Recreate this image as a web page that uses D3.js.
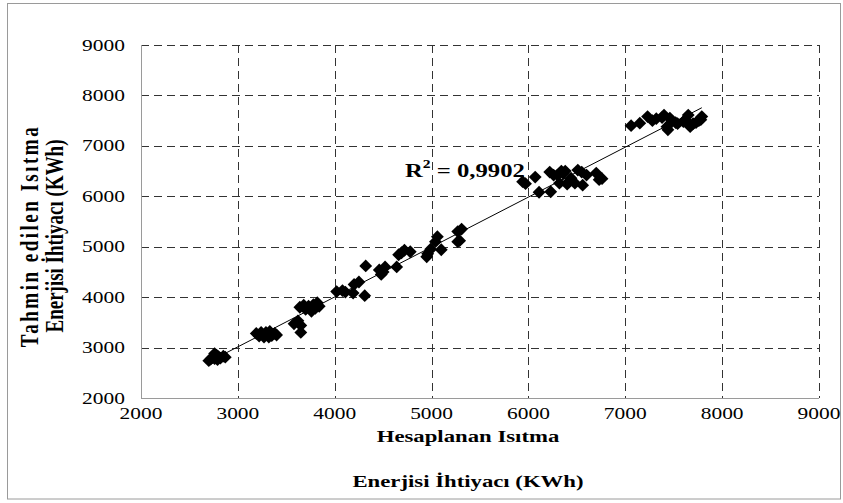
<!DOCTYPE html>
<html>
<head>
<meta charset="utf-8">
<script src="https://cdnjs.cloudflare.com/ajax/libs/d3/7.8.5/d3.min.js"></script>
<style>
  body { margin: 0; background: #fff; }
  svg { display: block; }
  text { font-family: "Liberation Serif", "Times New Roman", serif; fill: #000; }
</style>
</head>
<body>
<svg id="chart" width="843" height="503"></svg>
<script>
// hesaplanan (calculated) vs tahmin edilen (predicted) heating energy, KWh
const calcKWh = [
  2700, 2720, 2740, 2760, 2780, 2800, 2820, 2850, 2870, 2760, 2790,
  3190, 3220, 3250, 3270, 3290, 3310, 3330, 3350, 3380, 3400, 3240, 3320,
  3580, 3620, 3650, 3650, 3640, 3680, 3700, 3730, 3760, 3780, 3800, 3820, 3840,
  4020, 4080, 4110, 4190, 4200, 4250, 4310, 4320, 4460, 4480, 4500, 4520,
  4640, 4660, 4690, 4720, 4780, 4950, 4960, 4990, 5040, 5060, 5100, 5270, 5290, 5310, 5270,
  5940, 5970, 6070, 6110, 6230, 6220, 6260, 6300, 6340, 6360, 6400, 6420, 6440, 6480,
  6510, 6550, 6560, 6600, 6700, 6730, 6760, 6320, 6380,
  7060, 7150, 7230, 7280, 7320, 7380, 7400, 7430, 7440, 7460, 7480, 7520, 7540,
  7600, 7620, 7650, 7670, 7700, 7730, 7780, 7790, 7760
]
const predKWh = [
  2740, 2770, 2800, 2780, 2850, 2820, 2790, 2830, 2810, 2880, 2760,
  3280, 3230, 3270, 3210, 3300, 3250, 3320, 3240, 3280, 3250, 3300, 3210,
  3470, 3530, 3440, 3300, 3800, 3840, 3760, 3820, 3720, 3850, 3780, 3890, 3820,
  4110, 4130, 4100, 4080, 4250, 4300, 4030, 4620, 4540, 4450, 4500, 4600,
  4600, 4840, 4880, 4930, 4900, 4800, 4860, 4950, 5100, 5200, 4940, 5300, 5120, 5350, 5100,
  6290, 6250, 6380, 6080, 6090, 6480, 6420, 6420, 6500, 6450, 6240, 6300, 6360, 6260,
  6520, 6480, 6220, 6420, 6460, 6330, 6350, 6260, 6500,
  7400, 7450, 7580, 7500, 7540, 7560, 7610, 7380, 7320, 7550, 7500, 7460, 7440,
  7480, 7520, 7610, 7380, 7440, 7460, 7520, 7580, 7500
]
const xTicks = [2000, 3000, 4000, 5000, 6000, 7000, 8000, 9000]
const yTicks = [2000, 3000, 4000, 5000, 6000, 7000, 8000, 9000]
const xTitle = ['Hesaplanan Isıtma', 'Enerjisi İhtiyacı (KWh)']
const yTitle = ['Tahmin edilen Isıtma', 'Enerjisi İhtiyacı (KWh)']
const r2Label = '0,9902'

const points = calcKWh.map((d, i) => ({ x: d, y: predKWh[i] }))

// the source picture is stretched sideways, text too
const SX = 1.3

const svg = d3.select('#chart'),
  margin = { top: 45, right: 24, bottom: 105, left: 141 },
  width = 843 - margin.left - margin.right,
  height = 503 - margin.top - margin.bottom

// outer frame
svg.append('rect')
  .attr('x', 7.5).attr('y', 3.5)
  .attr('width', 833).attr('height', 495.5)
  .attr('fill', 'none').attr('stroke', '#9a9a9a').attr('stroke-width', 1)

const g = svg.append('g').attr('transform', 'translate(' + margin.left + ',' + margin.top + ')')

const x = d3.scaleLinear().domain([2000, 9000]).range([0, width])
const y = d3.scaleLinear().domain([2000, 9000]).range([height, 0])

function stretched(parent, px, py, str, extra) {
  const t = parent.append('g')
    .attr('transform', 'translate(' + px + ',' + py + ') scale(' + SX + ',1)' + (extra || ''))
    .append('text')
    .text(str)
  return t
}

// grid
g.append('g').attr('class', 'grid')
  .selectAll('line.gx').data(xTicks.slice(1)).join('line')
  .attr('x1', d => Math.round(x(d)) + 0.5).attr('x2', d => Math.round(x(d)) + 0.5)
  .attr('y1', 0).attr('y2', height)
  .attr('stroke', '#333').attr('stroke-dasharray', '8,5')
g.append('g').attr('class', 'grid')
  .selectAll('line.gy').data(yTicks.slice(1)).join('line')
  .attr('y1', d => Math.round(y(d)) + 0.5).attr('y2', d => Math.round(y(d)) + 0.5)
  .attr('x1', 0).attr('x2', width)
  .attr('stroke', '#333').attr('stroke-dasharray', '8,5')

// axis lines
g.append('line').attr('x1', 0.5).attr('x2', 0.5).attr('y1', 0).attr('y2', height + 0.5)
  .attr('stroke', '#9a9a9a')
g.append('line').attr('x1', 0).attr('x2', width).attr('y1', height + 0.5).attr('y2', height + 0.5)
  .attr('stroke', '#9a9a9a')

// tick labels
xTicks.forEach(d => {
  stretched(g, x(d), height + 21, d)
    .attr('text-anchor', 'middle').attr('font-size', 16.5)
})
yTicks.forEach(d => {
  stretched(g, -16, y(d) + 5.5, d)
    .attr('text-anchor', 'end').attr('font-size', 16.5)
})

// regression line
const mx = d3.mean(points, d => d.x), my = d3.mean(points, d => d.y)
const slope = d3.sum(points, d => (d.x - mx) * (d.y - my)) / d3.sum(points, d => (d.x - mx) ** 2)
const icpt = my - slope * mx
const [x0, x1] = d3.extent(points, d => d.x)
g.append('line')
  .attr('x1', x(x0)).attr('y1', y(icpt + slope * x0))
  .attr('x2', x(x1)).attr('y2', y(icpt + slope * x1))
  .attr('stroke', '#000').attr('stroke-width', 1)

// diamond markers
const diamond = d3.symbol().type(d3.symbolDiamond2).size(105)
g.append('g').selectAll('path').data(points).join('path')
  .attr('d', diamond)
  .attr('transform', d => 'translate(' + x(d.x) + ',' + y(d.y) + ')')
  .attr('fill', '#000')

// r squared
const r2 = stretched(g, 264, 132, '').attr('font-size', 19).attr('font-weight', 'bold')
r2.append('tspan').text('R')
r2.append('tspan').text('2').attr('font-size', 12).attr('dy', -9)
r2.append('tspan').text(' = ' + r2Label).attr('dy', 9)

// axis titles
xTitle.forEach((t, i) => {
  stretched(svg, 468, 442 + i * 45, t)
    .attr('text-anchor', 'middle').attr('font-size', 17.5).attr('font-weight', 'bold')
})
yTitle.forEach((t, i) => {
  stretched(svg, 38 + i * 25, 236, t, ' rotate(-90)')
    .attr('text-anchor', 'middle').attr('font-size', 19).attr('font-weight', 'bold')
    .attr('letter-spacing', i === 0 ? 2.5 : 0)
})
</script>
</body>
</html>
